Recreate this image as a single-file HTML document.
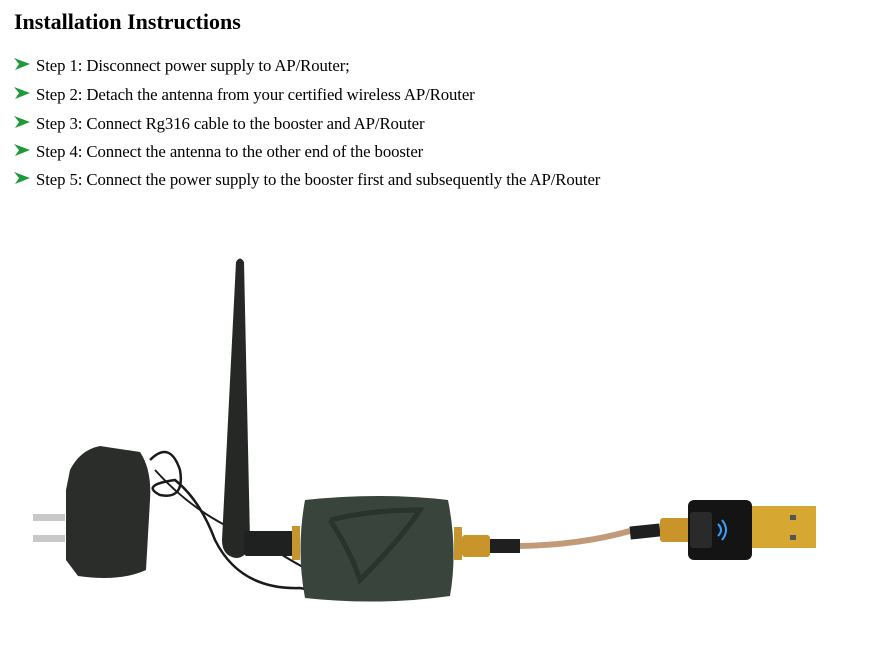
<!DOCTYPE html>
<html><head><meta charset="utf-8"><style>
body{margin:0;width:884px;height:664px;background:#fff;position:relative;overflow:hidden;font-family:"Liberation Serif",serif;color:#000}
h1{position:absolute;left:14px;top:8px;margin:0;font-size:22px;font-weight:bold;line-height:28px}
.s{position:absolute;left:36px;font-size:16.75px;line-height:18px;white-space:nowrap;letter-spacing:-0.1px}
.a{position:absolute;left:13px;width:18px;height:14px}
</style></head><body>
<h1>Installation Instructions</h1>
<svg class="a" style="top:57px" viewBox="0 0 18 14"><polygon points="1,1 17,7 2,13 6,7" fill="#1e9a3a"/></svg>
<div class="s" style="top:57px">Step 1: Disconnect power supply to AP/Router;</div>
<svg class="a" style="top:86px" viewBox="0 0 18 14"><polygon points="1,1 17,7 2,13 6,7" fill="#1e9a3a"/></svg>
<div class="s" style="top:86px">Step 2: Detach the antenna from your certified wireless AP/Router</div>
<svg class="a" style="top:115px" viewBox="0 0 18 14"><polygon points="1,1 17,7 2,13 6,7" fill="#1e9a3a"/></svg>
<div class="s" style="top:115px">Step 3: Connect Rg316 cable to the booster and AP/Router</div>
<svg class="a" style="top:143px" viewBox="0 0 18 14"><polygon points="1,1 17,7 2,13 6,7" fill="#1e9a3a"/></svg>
<div class="s" style="top:143px">Step 4: Connect the antenna to the other end of the booster</div>
<svg class="a" style="top:171px" viewBox="0 0 18 14"><polygon points="1,1 17,7 2,13 6,7" fill="#1e9a3a"/></svg>
<div class="s" style="top:171px">Step 5: Connect the power supply to the booster first and subsequently the AP/Router</div>

<svg style="position:absolute;left:0;top:0" width="884" height="664">
<rect x="33" y="514" width="32" height="7" fill="#c8c8c8"/>
<rect x="33" y="535" width="32" height="7" fill="#c8c8c8"/>
<path d="M70 470 Q80 450 100 446 L140 452 Q152 470 150 500 L146 570 Q120 582 78 576 L66 560 L66 490 Z" fill="#2b2d2b"/>
<path d="M150 460 Q170 440 180 470 Q185 500 160 495 Q140 485 175 480 Q200 500 215 540 Q240 590 300 588 Q360 600 410 592 Q430 580 420 570" stroke="#1a1a1a" stroke-width="2.5" fill="none"/>
<path d="M155 470 Q200 520 260 540 Q330 590 380 590" stroke="#1a1a1a" stroke-width="2" fill="none"/>
<path d="M236 262 Q240 255 244 262 L250 540 Q248 558 236 558 Q222 556 222 540 Z" fill="#262826"/>
<rect x="244" y="531" width="50" height="25" rx="3" fill="#1f2020"/>
<rect x="292" y="526" width="8" height="34" fill="#c7952e"/>
<path d="M305 500 Q380 492 448 500 Q458 550 450 596 Q380 606 305 598 Q296 550 305 500 Z" fill="#38443c"/>
<path d="M330 520 Q370 510 420 510 Q400 540 360 580 Q350 550 330 520" stroke="#2a332d" stroke-width="5" fill="none"/>
<rect x="454" y="527" width="8" height="33" fill="#c7952e"/>
<rect x="462" y="535" width="28" height="22" rx="3" fill="#c9942a"/>
<rect x="490" y="539" width="30" height="14" fill="#1f1f1f"/>
<path d="M520 546 Q580 545 630 531" stroke="#c29a78" stroke-width="6" fill="none"/>
<rect x="630" y="525" width="30" height="13" fill="#1f1f1f" transform="rotate(-6 645 531)"/>
<rect x="660" y="518" width="30" height="24" rx="3" fill="#c9942a"/>
<rect x="688" y="500" width="64" height="60" rx="6" fill="#141414"/>
<rect x="690" y="512" width="22" height="36" rx="3" fill="#2a2a2a"/>
<path d="M718 524 Q724 530 718 536 M722 520 Q730 530 722 540" stroke="#3aa0ff" stroke-width="2" fill="none"/>
<rect x="752" y="506" width="64" height="42" fill="#d6a832"/>
<rect x="790" y="515" width="6" height="5" fill="#555"/>
<rect x="790" y="535" width="6" height="5" fill="#555"/>
</svg>
</body></html>
